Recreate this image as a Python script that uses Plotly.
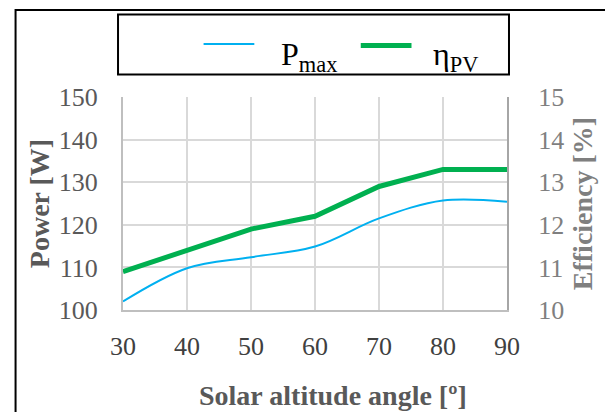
import plotly.graph_objects as go

# Solar altitude angle [deg]
altitude = [30, 40, 50, 60, 70, 80, 90]
# Maximum power [W]
p_max = [102.0, 109.8, 112.4, 114.9, 121.5, 125.7, 125.4]
# PV efficiency [%]
eta_pv = [10.9, 11.4, 11.9, 12.2, 12.9, 13.3, 13.3]

x_ticks = [30, 40, 50, 60, 70, 80, 90]
power_ticks = [100, 110, 120, 130, 140, 150]
eff_ticks = [10, 11, 12, 13, 14, 15]

BLUE = "#00b0f0"
GREEN = "#00b050"
SERIF = "Liberation Serif, Times New Roman, serif"

fig = go.Figure()
fig.add_trace(go.Scatter(
    x=altitude, y=p_max, mode="lines", name="P<sub>max</sub>",
    line=dict(color=BLUE, width=2, shape="spline", smoothing=1.0),
    yaxis="y", showlegend=False,
))
fig.add_trace(go.Scatter(
    x=altitude, y=eta_pv, mode="lines", name="η<sub>PV</sub>",
    line=dict(color=GREEN, width=5),
    yaxis="y2", showlegend=False,
))

# plot area in pixels: left 123, right 509, top 97, bottom 310
L, R, T, B = 123, 509, 97, 310
W, H = 605, 412
pw, ph = R - L, B - T


def px(xp):
    return (xp - L) / pw


def py(yp):
    return (B - yp) / ph


shapes = [
    # outer chart frame
    dict(type="rect", xref="paper", yref="paper",
         x0=px(15), x1=px(640), y0=py(440), y1=py(10),
         line=dict(color="black", width=2), layer="below"),
    # legend box
    dict(type="rect", xref="paper", yref="paper",
         x0=px(118), x1=px(511), y0=py(74.5), y1=py(14.5),
         line=dict(color="black", width=2)),
    # legend keys
    dict(type="line", xref="paper", yref="paper",
         x0=px(204), x1=px(255), y0=py(44), y1=py(44),
         line=dict(color=BLUE, width=2)),
    dict(type="line", xref="paper", yref="paper",
         x0=px(362), x1=px(413), y0=py(45.5), y1=py(45.5),
         line=dict(color=GREEN, width=5)),
]

annotations = [
    dict(text="P<sub>max</sub>", xref="paper", yref="paper",
         x=px(280), y=py(56), xanchor="left", yanchor="middle",
         showarrow=False, font=dict(family=SERIF, size=32, color="black")),
    dict(text="η<sub>PV</sub>", xref="paper", yref="paper",
         x=px(433), y=py(56), xanchor="left", yanchor="middle",
         showarrow=False, font=dict(family=SERIF, size=32, color="black")),
    dict(text="<b>Solar altitude angle [º]</b>", xref="paper", yref="paper",
         x=px(334), y=py(395), xanchor="center", yanchor="middle",
         showarrow=False, font=dict(family=SERIF, size=28, color="#595959")),
]

fig.update_layout(
    width=W, height=H,
    margin=dict(l=L, r=W - R, t=T, b=H - B, pad=0),
    paper_bgcolor="white", plot_bgcolor="white",
    font=dict(family=SERIF),
    showlegend=False,
    shapes=shapes,
    annotations=annotations,
    xaxis=dict(
        range=[30, 90], tickvals=x_ticks, ticktext=[str(v) for v in x_ticks],
        showgrid=True, gridcolor="#d9d9d9", gridwidth=2,
        showline=True, linecolor="#bfbfbf", linewidth=2,
        ticks="", ticklabelstandoff=12,
        tickfont=dict(family=SERIF, size=26, color="#404040"),
        zeroline=False,
    ),
    yaxis=dict(
        range=[100, 150], tickvals=power_ticks,
        showgrid=True, gridcolor="#d9d9d9", gridwidth=2,
        showline=True, linecolor="#bfbfbf", linewidth=2,
        ticks="", ticklabelstandoff=18,
        tickfont=dict(family=SERIF, size=26, color="#595959"),
        title=dict(text="<b>Power [W]</b>", standoff=1,
                   font=dict(family=SERIF, size=28, color="#595959")),
        zeroline=False,
    ),
    yaxis2=dict(
        range=[10, 15], tickvals=eff_ticks, overlaying="y", side="right",
        showgrid=False,
        showline=True, linecolor="#a6a6a6", linewidth=2,
        ticks="", ticklabelstandoff=24,
        tickfont=dict(family=SERIF, size=26, color="#7f7f7f"),
        title=dict(text="<b>Efficiency [%]</b>", standoff=9,
                   font=dict(family=SERIF, size=28, color="#7f7f7f")),
        zeroline=False,
    ),
)

fig.write_html("out.html")
